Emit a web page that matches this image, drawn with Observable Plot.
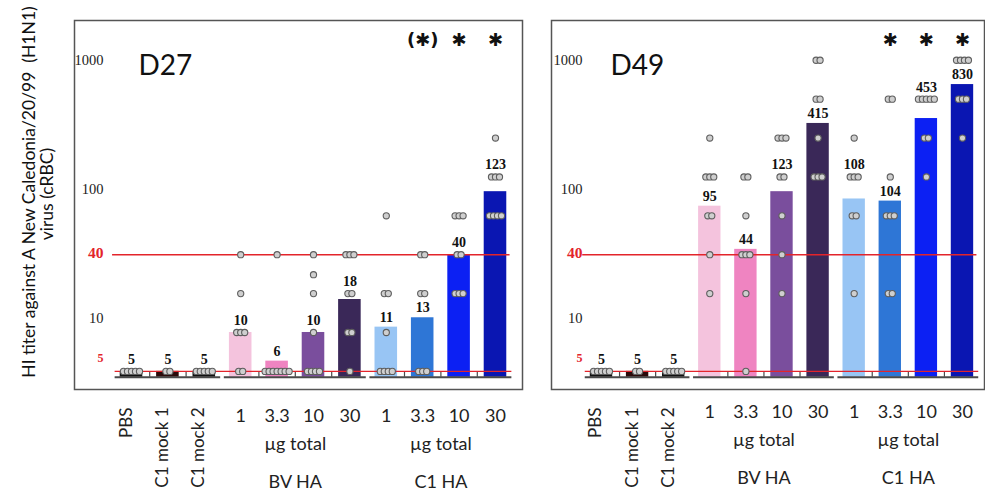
<!DOCTYPE html>
<html><head><meta charset="utf-8">
<script src="https://cdn.jsdelivr.net/npm/d3@7"></script>
<script src="https://cdn.jsdelivr.net/npm/@observablehq/plot@0.6"></script>
<style>
body{margin:0;background:#fff;}
#wrap{position:relative;width:985px;height:493px;overflow:hidden;background:#fff;}
#p1{position:absolute;left:0;top:0;}
#p2{position:absolute;left:530px;top:0;}
.yt{position:absolute;font-family:Lato,sans-serif;font-size:17.5px;color:#111;white-space:nowrap;transform:translate(-50%,-50%) rotate(-90deg);}
</style></head><body>
<div id="wrap">
<div id="p1"></div><div id="p2"></div>
<div class="yt" style="left:28px;top:192px">HI titer against A New Caledonia/20/99&nbsp;&nbsp;(H1N1)</div>
<div class="yt" style="left:46px;top:194px">virus (cRBC)</div>
</div>
<script>
// ---------- data ----------
const categories = ["PBS", "C1 mock 1", "C1 mock 2", "1", "3.3", "10", "30", "1", "3.3", "10", "30"];
const groups = ["control", "control", "control", "BV HA", "BV HA", "BV HA", "BV HA", "C1 HA", "C1 HA", "C1 HA", "C1 HA"];
const barColors = ["#111111", "#2b0a0a", "#111111", "#f4c3dd", "#ef84c1", "#7a4e9d", "#3a2858", "#98c5f4", "#2e76d6", "#0c20f3", "#0a16b2"];
const doseUnit = "µg total";
const yTicks = [1000, 100, 10];
const protectiveTiter = 40;
const detectionTiter = 5;

const gmtD27 = [5, 5, 5, 10, 6, 10, 18, 11, 13, 40, 123];
const gmtD49 = [5, 5, 5, 95, 44, 123, 415, 108, 104, 453, 830];

const titersD27 = [
  [5, 5, 5, 5, 5],
  [5, 5],
  [5, 5, 5, 5, 5],
  [40, 20, 10, 10, 10, 5, 5],
  [40, 5, 5, 5, 5, 5, 5, 5],
  [40, 28, 20, 10, 5, 5, 5, 5],
  [40, 40, 40, 20, 20, 10, 10, 5],
  [80, 20, 20, 10, 5, 5, 5, 5],
  [40, 40, 20, 20, 5, 5, 5],
  [80, 80, 80, 40, 40, 20, 20, 20],
  [320, 160, 160, 160, 80, 80, 80, 80]
];
const titersD49 = [
  [5, 5, 5, 5, 5],
  [5, 5],
  [5, 5, 5, 5, 5],
  [320, 160, 160, 160, 80, 80, 40, 20],
  [160, 160, 80, 40, 40, 40, 20, 5],
  [320, 320, 320, 160, 160, 80, 40, 20],
  [1280, 1280, 640, 640, 320, 160, 160, 160],
  [320, 160, 160, 160, 80, 80, 20],
  [640, 640, 160, 80, 80, 80, 20, 20],
  [640, 640, 640, 640, 640, 320, 320, 160],
  [1280, 1280, 1280, 1280, 640, 640, 640, 320]
];
const starsD27 = ["", "", "", "", "", "", "", "", "(✱)", "✱", "✱"];
const starsD49 = ["", "", "", "", "", "", "", "", "✱", "✱", "✱"];

// ---------- drawing ----------
const red = "#e3242b";
const base = 4.5;
const serif = "'Liberation Serif','Times New Roman',serif";
const sans = "Lato,'Open Sans',sans-serif";

function panel(cfg) {
  const n = categories.length;
  const bars = categories.map((c, i) => ({i, v: cfg.gmt[i], color: barColors[i]}));
  const dots = [];
  cfg.titers.forEach((arr, i) => {
    const counts = d3.rollup(arr, v => v.length, d => d);
    const seen = new Map();
    arr.forEach(t => {
      const k = seen.get(t) || 0; seen.set(t, k + 1);
      dots.push({i, t, off: k - (counts.get(t) - 1) / 2});
    });
  });
  const labels = bars.map(b => {
    const near = cfg.titers[b.i].filter(t => t >= b.v && t <= b.v * 1.5);
    const top = near.length ? d3.max(near) : null;
    return {i: b.i, text: String(b.v), y: top ?? b.v, onDots: top != null};
  });
  const spans = Array.from(d3.group(categories.map((c, i) => ({i, g: groups[i]})), d => d.g).values())
    .map(a => ({x1: a[0].i - 0.45, x2: a[a.length - 1].i + 0.45}));
  const mids = d3.range(n - 1).filter(i => groups[i] === groups[i + 1]).map(i => i + 0.5);
  const stars = cfg.stars.map((s, i) => ({i, s})).filter(d => d.s);
  const doses = categories.map((c, i) => ({i, c})).filter(d => groups[d.i] !== "control");
  const ctrls = categories.map((c, i) => ({i, c})).filter(d => groups[d.i] === "control");
  const grpNames = Array.from(d3.group(categories.map((c, i) => ({i, g: groups[i]})), d => d.g))
    .filter(([g]) => g !== "control").map(([g, a]) => ({g, x: d3.mean(a, d => d.i)}));

  return Plot.plot({
    width: cfg.width, height: 493,
    marginLeft: cfg.marginLeft, marginRight: cfg.marginRight, marginTop: 20, marginBottom: 104,
    x: {type: "linear", domain: cfg.xDomain, axis: null},
    y: {type: "log", domain: [3.62, 2600], axis: null},
    color: {type: "identity"},
    marks: [
      Plot.rect(bars, {x1: d => d.i - 0.31, x2: d => d.i + 0.31, y1: base, y2: "v", fill: "color"}),
      Plot.ruleY(spans, {x1: "x1", x2: "x2", y: base, stroke: "#4a4a4a", strokeWidth: 2}),
      Plot.ruleX(mids, {x: d => d, y1: base, y2: 4.95, stroke: "#4a4a4a", strokeWidth: 1.2}),
      Plot.ruleY([detectionTiter], {x1: -0.45, x2: n - 0.55, stroke: red, strokeWidth: 1.3}),
      Plot.ruleY([protectiveTiter], {x1: -0.52, x2: n - 0.6, stroke: red, strokeWidth: 1.5}),
      Plot.dot(dots, {x: d => d.i + d.off * 0.11, y: "t", r: 3.1, fill: "#cfcfcf", stroke: "#5e5e5e", strokeWidth: 1.1}),
      Plot.text(labels.filter(d => d.onDots), {x: "i", y: "y", text: "text", dy: -12, fontFamily: serif, fontWeight: "bold", fontSize: 14, fill: "#111"}),
      Plot.text(labels.filter(d => !d.onDots), {x: "i", y: "y", text: "text", dy: -10, fontFamily: serif, fontWeight: "bold", fontSize: 14, fill: "#111"}),
      // y tick labels
      Plot.text(yTicks, {y: d => d, text: d => String(d), frameAnchor: "left", dx: cfg.tickDx, dy: -14, textAnchor: "end", fontFamily: serif, fontSize: 14.5, fill: "#222"}),
      Plot.text([protectiveTiter], {y: d => d, text: d => String(d), frameAnchor: "left", dx: cfg.tickDx, dy: -2, textAnchor: "end", fontFamily: serif, fontWeight: "bold", fontSize: 15.5, fill: red}),
      Plot.text([detectionTiter], {y: d => d, text: d => String(d), frameAnchor: "left", dx: cfg.tickDx, dy: -13, textAnchor: "end", fontFamily: serif, fontWeight: "bold", fontSize: 12, fill: red}),
      // significance
      Plot.text(stars, {x: "i", text: "s", frameAnchor: "top", dy: 13, fontFamily: "'DejaVu Sans',sans-serif", fontWeight: "bold", fontSize: 18, fill: "#111"}),
      // panel title
      Plot.text([cfg.title], {frameAnchor: "top-left", dx: cfg.titleDx, dy: 35, textAnchor: "start", fontFamily: sans, fontSize: 28, fill: "#111"}),
      // x labels
      Plot.text(ctrls, {x: "i", text: "c", frameAnchor: "bottom", rotate: -90, textAnchor: "end", dy: 18, fontFamily: sans, fontSize: 17, fill: "#222"}),
      Plot.text(doses, {x: "i", text: "c", frameAnchor: "bottom", dy: cfg.doseDy, fontFamily: sans, fontSize: 18, fill: "#222"}),
      Plot.text(grpNames, {x: "x", text: () => doseUnit, frameAnchor: "bottom", dy: cfg.doseDy + 28, fontFamily: sans, fontSize: 18, fill: "#222"}),
      Plot.text(grpNames, {x: "x", text: "g", frameAnchor: "bottom", dy: cfg.doseDy + 66, fontFamily: sans, fontSize: 18, fill: "#222"}),
      Plot.frame({stroke: "#555", strokeWidth: 1.5})
    ]
  });
}

document.getElementById("p1").append(panel({
  title: "D27", gmt: gmtD27, titers: titersD27, stars: starsD27,
  width: 530, marginLeft: 74, marginRight: 8, xDomain: [-1.566, 10.742],
  tickDx: 29, titleDx: 64, doseDy: 32
}));
document.getElementById("p2").append(panel({
  title: "D49", gmt: gmtD49, titers: titersD49, stars: starsD49,
  width: 455, marginLeft: 21, marginRight: 1, xDomain: [-1.385, 10.61],
  tickDx: 31, titleDx: 59, doseDy: 28
}));
</script>
</body></html>
